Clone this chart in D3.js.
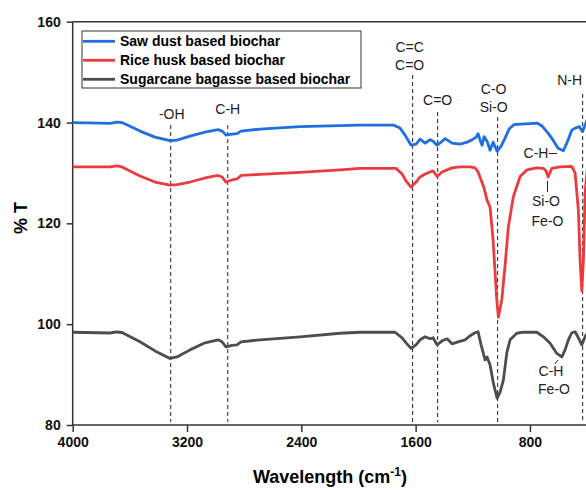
<!DOCTYPE html>
<meta charset="utf-8">
<style>
  body { margin: 0; background: #fff; }
  svg { font-family: "Liberation Sans", Arial, sans-serif; }
  .axis text { font-weight: bold; font-size: 14px; fill: #111; }
  .axis path, .axis line { stroke: #333; stroke-width: 1.5px; }
  .series { fill: none; stroke-width: 2.8px; stroke-linejoin: round; }
  .peak { stroke: #222; stroke-width: 1; stroke-dasharray: 4,3; }
  .note { font-size: 14px; fill: #222; text-anchor: middle; }
</style>
<body>
<div id="chart"></div>
<script src="https://cdn.jsdelivr.net/npm/d3@7"></script>
<script>

// FTIR spectra, wavenumber (cm-1) vs %T
var sawDustWave = [4000,3809,3739,3690,3655,3529,3424,3319,3270,3179,3074,2983,2955,2927,2885,2850,2822,2689,2409,2129,1989,1758,1709,1674,1632,1597,1569,1534,1499,1478,1450,1422,1394,1345,1289,1240,1198,1177,1163,1149,1135,1121,1100,1079,1058,1030,1002,974,946,911,869,799,750,715,673,638,603,566,542,507,484,454,433,414,400];
var sawDustT    = [140.0,139.9,139.85,140.1,140.0,138.3,137.1,136.4,136.5,137.3,138.1,138.6,138.3,137.5,137.7,137.8,138.3,138.7,139.2,139.4,139.5,139.5,138.9,137.5,135.5,135.7,136.7,135.9,136.6,136.3,135.5,136.1,136.8,135.9,135.7,136.1,136.7,137.1,137.8,136.5,135.5,137.2,136.3,134.5,136.1,134.3,135.3,136.9,138.7,139.6,139.7,139.8,139.9,139.3,137.9,136.5,134.9,134.4,135.9,138.5,138.9,139.2,138.2,139.5,140.5];

var riceHuskWave = [4000,3739,3690,3655,3529,3424,3319,3270,3179,3074,2983,2955,2927,2885,2850,2822,2689,2409,2129,1989,1737,1695,1667,1632,1597,1569,1534,1499,1478,1450,1415,1380,1345,1289,1219,1184,1163,1142,1121,1100,1079,1058,1044,1032,1021,997,974,951,916,869,822,752,706,687,673,647,589,507,484,461,449,437,426,414,400];
var riceHuskT    = [131.2,131.2,131.4,131.2,129.4,128.2,127.6,127.7,128.2,129.0,129.5,129.2,128.2,128.6,128.8,129.5,129.7,130.1,130.6,130.9,130.9,129.8,128.4,127.2,128.2,129.2,129.8,130.2,130.4,129.3,130.2,130.6,131.0,131.2,131.2,131.0,130.2,128.6,127.0,124.6,123.2,116.7,110.2,104.8,101.4,104.8,111.7,119.3,125.3,129.3,130.6,131.0,130.9,130.4,129.2,130.9,131.2,131.3,130.0,122.6,112.7,106.6,112.7,126.0,130.6];

var bagasseWave = [4000,3739,3690,3655,3529,3424,3319,3270,3179,3074,2983,2955,2927,2885,2850,2822,2689,2409,2129,1989,1744,1695,1667,1632,1597,1569,1534,1499,1478,1450,1415,1380,1345,1303,1254,1219,1184,1163,1142,1114,1100,1079,1056,1030,1009,986,962,939,892,846,752,706,659,612,577,554,531,507,484,461,437,414,400];
var bagasseT    = [98.4,98.25,98.45,98.35,96.5,94.7,93.2,93.5,94.9,96.3,96.9,96.5,95.5,95.8,95.9,96.5,96.9,97.5,98.2,98.4,98.4,97.3,96.3,95.2,95.9,96.9,97.5,97.1,97.3,95.9,96.7,97.1,96.1,96.5,96.9,97.7,98.3,98.5,95.9,92.9,93.5,91.9,88.3,85.3,86.5,88.9,94.3,96.9,98.2,98.4,98.4,97.5,96.2,94.2,93.5,94.9,96.9,98.3,98.5,97.3,95.9,97.5,98.2];

var seriesNames  = ["Saw dust based biochar", "Rice husk based biochar", "Sugarcane bagasse based biochar"];
var seriesColors = ["#1f6fe0", "#ec3b3f", "#4d4d4d"];

var xTicks = [4000, 3200, 2400, 1600, 800];
var yTicks = [80, 100, 120, 140, 160];

// dashed assignment lines
var peakWave   = [3314, 2915, 1621, 1446, 1026, 431];
var peakLabels = [["-OH"], ["C-H"], ["C=C", "C=O"], ["C=O"], ["C-O", "Si-O"], ["N-H"]];

var width = 586, height = 490;

var x = d3.scaleLinear().domain([4000, 400]).range([72.7, 587.1]);
var y = d3.scaleLinear().domain([80, 160]).range([425, 21.7]);

var svg = d3.select("#chart").append("svg")
    .attr("width", width)
    .attr("height", height);

// frame top
svg.append("line")
    .attr("x1", x(4000)).attr("x2", width)
    .attr("y1", y(160)).attr("y2", y(160))
    .attr("stroke", "#333").attr("stroke-width", 1.5);

svg.append("g")
    .attr("class", "axis")
    .attr("transform", "translate(0," + y(80) + ")")
    .call(d3.axisBottom(x).tickValues(xTicks).tickSize(7).tickPadding(5).tickFormat(d3.format("d")))
    .call(function(g) { g.select(".domain").attr("d", "M" + x(4000) + ",0H" + width); });

svg.append("g")
    .attr("class", "axis")
    .attr("transform", "translate(" + x(4000) + ",0)")
    .call(d3.axisLeft(y).tickValues(yTicks).tickSize(6).tickPadding(6).tickFormat(d3.format("d")))
    .call(function(g) { g.select(".domain").attr("d", "M0," + y(160) + "V" + y(80)); });

// axis titles
svg.append("text")
    .attr("transform", "translate(27,218) rotate(-90)")
    .attr("text-anchor", "middle")
    .style("font-weight", "bold").style("font-size", "18px")
    .text("% T");

var xt = svg.append("text")
    .attr("x", 330).attr("y", 483)
    .attr("text-anchor", "middle")
    .style("font-weight", "bold").style("font-size", "18px");
xt.append("tspan").text("Wavelength (cm");
xt.append("tspan").attr("dy", -7).style("font-size", "12px").text("-1");
xt.append("tspan").attr("dy", 7).text(")");

// peak lines
var peakTop = [125, 125, 75, 112, 117, 94];
var peakLabelY = [119, 114, 52, 105, 94, 85];
var peakLabelDx = [1, 0, -3, 0, -4, -13];
peakWave.forEach(function(w, i) {
  svg.append("line")
      .attr("class", "peak")
      .attr("x1", x(w)).attr("x2", x(w))
      .attr("y1", peakTop[i]).attr("y2", 422);
  peakLabels[i].forEach(function(t, j) {
    svg.append("text")
        .attr("class", "note")
        .attr("x", x(w) + peakLabelDx[i])
        .attr("y", peakLabelY[i] + j * 18)
        .text(t);
  });
});

// spectra
var line = d3.line()
    .x(function(d) { return x(d[0]); })
    .y(function(d) { return y(d[1]); });

var allSeries = [
  d3.zip(sawDustWave, sawDustT),
  d3.zip(riceHuskWave, riceHuskT),
  d3.zip(bagasseWave, bagasseT)
];

svg.selectAll(".series")
    .data(allSeries)
    .enter().append("path")
    .attr("class", "series")
    .attr("stroke", function(d, i) { return seriesColors[i]; })
    .attr("d", line);

// small annotations near the low wavenumber end
svg.append("text").attr("class", "note").attr("x", 536).attr("y", 158).text("C-H");
svg.append("line").attr("x1", 549).attr("x2", 557).attr("y1", 153.5).attr("y2", 153.5)
    .attr("stroke", "#222").attr("stroke-width", 1);

svg.append("line").attr("x1", 547.5).attr("x2", 547.5).attr("y1", 181).attr("y2", 192)
    .attr("stroke", "#222").attr("stroke-width", 1);
svg.append("text").attr("class", "note").attr("x", 546).attr("y", 206).text("Si-O");
svg.append("text").attr("class", "note").attr("x", 547.5).attr("y", 226).text("Fe-O");

svg.append("line").attr("x1", 555).attr("x2", 558).attr("y1", 364).attr("y2", 360)
    .attr("stroke", "#222").attr("stroke-width", 1);
svg.append("text").attr("class", "note").attr("x", 551).attr("y", 376).text("C-H");
svg.append("text").attr("class", "note").attr("x", 554).attr("y", 394).text("Fe-O");

// legend
var legend = svg.append("g").attr("transform", "translate(82,31)");
legend.append("rect")
    .attr("width", 279).attr("height", 57)
    .attr("fill", "#fff").attr("stroke", "#333").attr("stroke-width", 1);
seriesNames.forEach(function(name, i) {
  legend.append("line")
      .attr("x1", 1).attr("x2", 33)
      .attr("y1", 10.3 + i * 19).attr("y2", 10.3 + i * 19)
      .attr("stroke", seriesColors[i]).attr("stroke-width", 2.8);
  legend.append("text")
      .attr("x", 38).attr("y", 15.3 + i * 19)
      .style("font-weight", "bold").style("font-size", "14px")
      .text(name);
});

</script>
</body>
